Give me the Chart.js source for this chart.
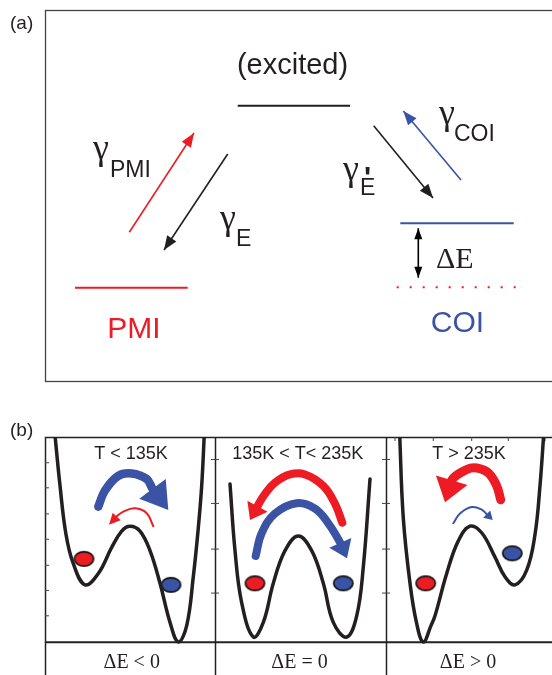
<!DOCTYPE html>
<html>
<head>
<meta charset="utf-8">
<script src="https://cdn.jsdelivr.net/npm/chart.js@4.4.1/dist/chart.umd.min.js"></script>
<style>
  html, body { margin: 0; padding: 0; background: #fff; overflow: hidden; width: 552px; height: 675px; }
  #chartA { position: absolute; left: 0; top: 0; }
  #chartB { position: absolute; left: 0; top: 395px; }
</style>
</head>
<body>
<canvas id="chartA" width="620" height="395"></canvas>
<canvas id="chartB" width="620" height="310"></canvas>
<script>
// ---- panel (a): levels, [coordinate, energy] ----
const excitedLevel = [[192.7, 275.3], [305, 275.3]];
const pmiLevel = [[30, 93.3], [142.7, 93.3]];
const coiLevel = [[355.3, 157.7], [468.7, 157.7]];
const coiGround = [[351.7, 93.7], [470.7, 93.7]];

// transitions, tail -> tip
const gammaPMI = [[84.3, 148.7], [149, 248]];
const gammaE = [[182.7, 227], [119, 131]];
const gammaEp = [[328.7, 255.3], [388, 183]];
const gammaCOI = [[416, 201], [358.3, 270]];
const deltaE = [[373.3, 152.7], [373.3, 103.3]];

// ---- panel (b): double wells, [coordinate, energy] ----
const wellLow = [[9.5, 217], [15, 160.3], [21, 110.3], [28.3, 80.3], [40, 58.7], [53.3, 70.3], [66.7, 97],
  [76.7, 113.7], [85, 118.7], [95, 113.7], [105, 93.7], [115, 60.3], [125, 20.3], [133.3, 0.3],
  [141.7, 17], [148.3, 67], [153.3, 117], [156.7, 160.3], [159.5, 217]];
const wellEqual = [[185, 162], [190, 93.7], [196.7, 40.3], [208.3, 5.3], [218.3, 20.3], [228.3, 60.3],
  [240, 93.7], [253.3, 108.7], [266.7, 93.7], [278.3, 60.3], [288.3, 20.3], [301.7, 5.3],
  [311.7, 27], [318.3, 77], [325, 167]];
const wellHigh = [[354.5, 217], [358.3, 127], [365, 60.3], [371.5, 20], [378.3, 0.3], [386, 17], [390, 27],
  [401.7, 70.3], [413.3, 103.7], [425, 118.7], [436.7, 112], [450, 87], [460, 67], [470, 58.7],
  [481.7, 73.7], [490, 110.3], [495, 160.3], [499, 217]];

const pmiState = [[39, 85.3], [210, 60.3], [380.7, 60.3]];
const coiState = [[126, 58.7], [298.3, 60.3], [467.3, 91]];

// hopping arrows, last two points = head base, head tip
const hopCoiLow = [[53.3, 138.7], [60, 155.3], [73.3, 170.3], [86.7, 172.7], [101.7, 167], [107.5, 157], [123.3, 135.3]];
const hopPmiLow = [[108.3, 118.7], [101.7, 132], [90, 137], [78.3, 133.7], [71.7, 128.7], [64, 120.3]];
const hopPmiEq = [[297.3, 122.3], [290, 141.7], [278.3, 160], [260, 171.7], [245, 171.7], [230, 163.3], [220, 151.7], [212.5, 139.2], [205, 125]];
const hopCoiEq = [[210.7, 88.3], [216.7, 111.7], [230, 131.7], [251.7, 142.3], [270, 136.7], [283.3, 121.7], [295.3, 101.7], [302, 86]];
const hopPmiHigh = [[455.7, 145.7], [451.7, 160], [443.3, 173.3], [431.7, 178.3], [421.7, 176.7], [406.7, 165.8], [400, 143.3]];
const hopCoiHigh = [[408.3, 121.7], [415, 131.7], [426.7, 138.3], [436.7, 135.7], [441.7, 131], [447.7, 125]];

const panelEdges = [0, 170, 341, 512];
const leftTicks1 = [183.7, 158, 131.3, 105.3, 78.7, 53, 27];
const leftTicks23 = [187, 142, 95.3, 50.3];
const topTicks3 = [350, 388.3, 426.7, 463.3, 500];

const tempLabels = ['T < 135K', '135K < T< 235K', 'T > 235K'];
const gapLabels = ['ΔE < 0', 'ΔE = 0', 'ΔE > 0'];

const RED = '#ed1c24', BLUE = '#3a53a4', INK = '#231f20';
const SANS = '"Liberation Sans", Arial, sans-serif';
const SERIF = '"Liberation Serif", "Times New Roman", serif';

const xy = arr => arr.map(([x, y]) => ({ x, y }));

function lineSet(points, color, width, extra) {
  return Object.assign({ data: xy(points), showLine: true, borderColor: color, borderWidth: width,
    pointRadius: 0, fill: false, tension: 0 }, extra || {});
}

// straight arrow, head drawn at the last point
function arrowSet(points, color, width, len, headW, both) {
  return lineSet(points, color, width, { head: { len, width: headW, both } });
}

// curved arrow; last point is the head tip, segment to it is hidden
function hopSet(points, color, width, headW) {
  const n = points.length;
  return lineSet(points, color, width, {
    tension: 0.4, borderCapStyle: 'round', clip: false,
    head: { tipPoint: true, width: headW },
    segment: { borderColor: c => c.p1DataIndex === n - 1 ? 'rgba(0,0,0,0)' : color }
  });
}

function ballImage(fill) {
  const c = document.createElement('canvas');
  c.width = 23; c.height = 18;
  const g = c.getContext('2d');
  g.beginPath();
  g.ellipse(11.5, 9, 9.6, 7.2, 0, 0, Math.PI * 2);
  g.fillStyle = fill; g.fill();
  g.lineWidth = 1.7; g.strokeStyle = '#111'; g.stroke();
  return c;
}

const arrowHeads = {
  id: 'arrowHeads',
  afterDatasetsDraw(chart) {
    const ctx = chart.ctx;
    const tri = (tip, from, len, w) => {
      const dx = tip.x - from.x, dy = tip.y - from.y;
      const d = Math.hypot(dx, dy) || 1;
      const ux = dx / d, uy = dy / d;
      const bx = tip.x - ux * len, by = tip.y - uy * len;
      ctx.beginPath();
      ctx.moveTo(tip.x, tip.y);
      ctx.lineTo(bx - uy * w / 2, by + ux * w / 2);
      ctx.lineTo(bx + uy * w / 2, by - ux * w / 2);
      ctx.closePath();
      ctx.fill();
    };
    chart.data.datasets.forEach((ds, i) => {
      if (!ds.head) return;
      const el = chart.getDatasetMeta(i).data;
      const n = el.length;
      ctx.save();
      ctx.fillStyle = ds.borderColor;
      if (ds.head.tipPoint) {
        const d = Math.hypot(el[n - 1].x - el[n - 2].x, el[n - 1].y - el[n - 2].y);
        tri(el[n - 1], el[n - 2], d, ds.head.width);
      } else {
        tri(el[n - 1], el[n - 2], ds.head.len, ds.head.width);
        if (ds.head.both) tri(el[0], el[1], ds.head.len, ds.head.width);
      }
      ctx.restore();
    });
  }
};

function textPlugin(items) {
  return {
    id: 'texts',
    afterDraw(chart) {
      const { ctx, scales: { x, y } } = chart;
      items.forEach(t => {
        ctx.save();
        ctx.font = t.font;
        ctx.fillStyle = t.color || INK;
        ctx.textAlign = t.align || 'left';
        ctx.textBaseline = 'alphabetic';
        ctx.fillText(t.text, x.getPixelForValue(t.x), y.getPixelForValue(t.y));
        ctx.restore();
      });
    }
  };
}

function baseOptions(xmax, ymin, ymax, padding) {
  return {
    responsive: false, animation: false, events: [],
    layout: { padding },
    plugins: { legend: { display: false }, tooltip: { enabled: false } },
    scales: {
      x: { type: 'linear', min: 0, max: xmax, display: false },
      y: { type: 'linear', min: ymin, max: ymax, display: false }
    }
  };
}

// ---------- panel (a) ----------
const frameA = {
  id: 'frameA',
  beforeDatasetsDraw(chart) {
    const { ctx, chartArea: a } = chart;
    ctx.save();
    ctx.strokeStyle = '#444'; ctx.lineWidth = 1.3;
    ctx.strokeRect(a.left + 0.5, a.top + 0.5, a.right - a.left, a.bottom - a.top);
    ctx.restore();
  }
};

const labelsA = [
  { text: '(a)', x: -35, y: 352, font: `19px ${SANS}` },
  { text: '(excited)', x: 247.5, y: 307, font: `29px ${SANS}`, align: 'center' },
  { text: 'γ', x: 48, y: 222, font: `36px ${SERIF}` },
  { text: 'PMI', x: 65, y: 204, font: `23px ${SANS}` },
  { text: 'γ', x: 175, y: 152, font: `36px ${SERIF}` },
  { text: 'E', x: 191, y: 135, font: `23px ${SANS}` },
  { text: 'γ', x: 394, y: 257, font: `36px ${SERIF}` },
  { text: 'COI', x: 409, y: 240, font: `23px ${SANS}` },
  { text: 'γ', x: 298, y: 201, font: `36px ${SERIF}` },
  { text: "'", x: 319, y: 194, font: `bold 30px ${SANS}` },
  { text: 'E', x: 315, y: 186, font: `23px ${SANS}` },
  { text: 'PMI', x: 89, y: 43.3, font: `30px ${SANS}`, color: RED, align: 'center' },
  { text: 'COI', x: 412.5, y: 48.7, font: `30px ${SANS}`, color: BLUE, align: 'center' },
  { text: 'ΔE', x: 391, y: 113.3, font: `30px ${SERIF}` }
];

new Chart(document.getElementById('chartA'), {
  type: 'scatter',
  data: {
    datasets: [
      lineSet(excitedLevel, INK, 2),
      lineSet(pmiLevel, RED, 2),
      lineSet(coiLevel, BLUE, 2),
      lineSet(coiGround, RED, 2, { borderDash: [2, 11] }),
      arrowSet(gammaPMI, RED, 1.6, 14, 11),
      arrowSet(gammaE, INK, 1.6, 14, 11),
      arrowSet(gammaEp, INK, 1.6, 14, 11),
      arrowSet(gammaCOI, BLUE, 1.6, 14, 11),
      arrowSet(deltaE, '#000', 1.6, 11, 8, true)
    ]
  },
  options: baseOptions(555, 0, 371, { left: 45, top: 10, right: 20, bottom: 14 }),
  plugins: [frameA, arrowHeads, textPlugin(labelsA)]
});

// ---------- panel (b) ----------
const frameB = {
  id: 'frameB',
  beforeDatasetsDraw(chart) {
    const { ctx, chartArea: a, scales: { x, y } } = chart;
    ctx.save();
    ctx.strokeStyle = '#222'; ctx.lineWidth = 1.5;
    ctx.strokeRect(a.left + 0.5, a.top + 0.5, a.right - a.left, a.bottom - a.top);
    panelEdges.slice(1, 3).forEach(v => {
      const px = Math.round(x.getPixelForValue(v)) + 0.5;
      ctx.beginPath(); ctx.moveTo(px, a.top); ctx.lineTo(px, a.bottom); ctx.stroke();
    });
    ctx.lineWidth = 2;
    const py = y.getPixelForValue(0);
    ctx.beginPath(); ctx.moveTo(a.left, py); ctx.lineTo(a.right, py); ctx.stroke();
    // inward ticks
    ctx.lineWidth = 1; ctx.strokeStyle = '#444';
    const tick = (x0, y0, x1, y1) => { ctx.beginPath(); ctx.moveTo(x0, y0); ctx.lineTo(x1, y1); ctx.stroke(); };
    const e0 = x.getPixelForValue(panelEdges[0]);
    leftTicks1.forEach(v => { const p = y.getPixelForValue(v); tick(e0, p, e0 + 4, p); });
    [panelEdges[1], panelEdges[2]].forEach(e => {
      const ex = x.getPixelForValue(e);
      leftTicks23.forEach(v => { const p = y.getPixelForValue(v); tick(ex - 4, p, ex + 4, p); });
    });
    topTicks3.forEach(v => { const p = x.getPixelForValue(v); tick(p, a.top, p, a.top + 4); });
    ctx.restore();
  }
};

const tempX = [86, 252.7, 424];
const gapX = [86.7, 254.5, 423];
const labelsB = [{ text: '(b)', x: -35, y: 211, font: `19px ${SANS}` }]
  .concat(tempLabels.map((t, i) => ({ text: t, x: tempX[i], y: 187.7, font: `18px ${SANS}`, align: 'center' })))
  .concat(gapLabels.map((t, i) => ({ text: t, x: gapX[i], y: -26, font: `20px ${SERIF}`, align: 'center' })));

const wellStyle = { tension: 0.4, clip: 0, borderCapStyle: 'round' };

new Chart(document.getElementById('chartB'), {
  type: 'scatter',
  data: {
    datasets: [
      lineSet(wellLow, INK, 3.5, wellStyle),
      lineSet(wellEqual, INK, 3.5, wellStyle),
      lineSet(wellHigh, INK, 3.5, wellStyle),
      hopSet(hopCoiLow, BLUE, 8.5, 33),
      hopSet(hopPmiLow, RED, 2, 11),
      hopSet(hopPmiEq, RED, 8, 23),
      hopSet(hopCoiEq, BLUE, 8, 24),
      hopSet(hopPmiHigh, RED, 9, 33),
      hopSet(hopCoiHigh, BLUE, 2, 10),
      { data: xy(pmiState), pointStyle: ballImage(RED), pointRadius: 10 },
      { data: xy(coiState), pointStyle: ballImage(BLUE), pointRadius: 10 }
    ]
  },
  options: baseOptions(512, -53, 210, { left: 45, top: 42, right: 63, bottom: 5 }),
  plugins: [frameB, arrowHeads, textPlugin(labelsB)]
});
</script>
</body>
</html>
